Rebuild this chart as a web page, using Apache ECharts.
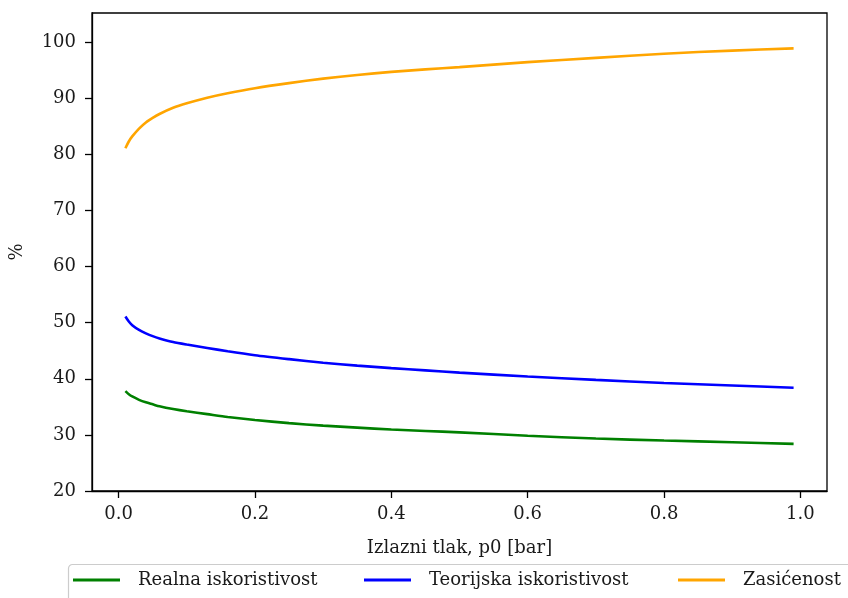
<!DOCTYPE html>
<html>
<head>
<meta charset="utf-8">
<script src="https://cdn.jsdelivr.net/npm/echarts@6/dist/echarts.min.js"></script>
<style>html,body{margin:0;padding:0;background:#fff}#c{width:848px;height:598px}</style>
</head>
<body>
<div id="c"></div>
<script>
const xValues   = [0.01, 0.015, 0.02, 0.03, 0.04, 0.05, 0.06, 0.08, 0.1, 0.13, 0.16, 0.2, 0.25, 0.3, 0.35, 0.4, 0.45, 0.5, 0.6, 0.7, 0.8, 0.9, 0.99];
const realna    = [37.8, 37.25, 36.85, 36.25, 35.8, 35.45, 35.1, 34.6, 34.2, 33.7, 33.2, 32.65, 32.1, 31.65, 31.3, 30.95, 30.7, 30.45, 29.85, 29.35, 29.0, 28.7, 28.4];
const teorijska = [51.1, 50.2, 49.55, 48.7, 48.1, 47.6, 47.2, 46.55, 46.1, 45.5, 44.9, 44.2, 43.5, 42.85, 42.35, 41.9, 41.5, 41.1, 40.4, 39.8, 39.25, 38.8, 38.4];
const zasicenost= [81.1, 82.3, 83.2, 84.6, 85.7, 86.5, 87.2, 88.3, 89.1, 90.1, 90.9, 91.8, 92.7, 93.5, 94.15, 94.7, 95.15, 95.55, 96.45, 97.2, 97.95, 98.5, 98.9];
const xTicks = [0.0, 0.2, 0.4, 0.6, 0.8, 1.0];
const yTicks = [20, 30, 40, 50, 60, 70, 80, 90, 100];
const seriesNames = ['Realna iskoristivost', 'Teorijska iskoristivost', 'Zasićenost'];
const colors = ['#008000', '#0000ff', '#ffa500'];

const font = '"DejaVu Serif", "Liberation Serif", serif';
const txt = '#1a1a1a';
const pair = arr => xValues.map((x, i) => [x, arr[i]]);
const allData = [realna, teorijska, zasicenost];

const chart = echarts.init(document.getElementById('c'));
const legendLefts = [73, 364, 678];
chart.setOption({
  animation: false,
  backgroundColor: '#fff',
  grid: { left: 90, right: 21, top: 13, bottom: 107, show: true, borderColor: '#000', borderWidth: 1.3 },
  xAxis: {
    type: 'value', min: -0.039, max: 1.039,
    name: 'Izlazni tlak, p0 [bar]', nameLocation: 'middle', nameGap: 48,
    nameTextStyle: { fontFamily: font, fontSize: 18, color: txt },
    axisLine: { onZero: false, lineStyle: { color: '#000', width: 1.3 } },
    axisTick: { show: true, length: 7, inside: false, customValues: xTicks, lineStyle: { color: '#000', width: 1.3 } },
    axisLabel: { customValues: xTicks, formatter: v => v.toFixed(1), fontFamily: font, fontSize: 18, color: txt, margin: 14 },
    splitLine: { show: false }
  },
  yAxis: {
    type: 'value', min: 20, max: 105.2,
    name: '%', nameLocation: 'middle', nameGap: 66, nameRotate: 90,
    nameTextStyle: { fontFamily: font, fontSize: 18, color: txt },
    axisLine: { show: true, onZero: false, lineStyle: { color: '#000', width: 1.3 } },
    axisTick: { show: true, length: 7, inside: false, customValues: yTicks, lineStyle: { color: '#000', width: 1.3 } },
    axisLabel: { customValues: yTicks, fontFamily: font, fontSize: 18, color: txt, margin: 16 },
    splitLine: { show: false }
  },
  legend: seriesNames.map((n, i) => ({
    data: [n], left: legendLefts[i], top: 571, padding: 0,
    icon: 'rect', itemWidth: 47, itemHeight: 2.8,
    textStyle: { fontFamily: font, fontSize: 18, color: txt, padding: [0, 0, 0, 13] }
  })),
  graphic: [{
    type: 'rect', left: 66, top: 562,
    shape: { width: 800, height: 50, r: 4 },
    style: { fill: 'none', stroke: '#cccccc', lineWidth: 1.2 }, z: -1
  }],
  series: seriesNames.map((n, i) => ({
    name: n, type: 'line', data: pair(allData[i]), smooth: 0.25,
    showSymbol: false, symbol: 'none',
    lineStyle: { color: colors[i], width: 2.6 }, itemStyle: { color: colors[i] }
  }))
});
</script>
</body>
</html>
